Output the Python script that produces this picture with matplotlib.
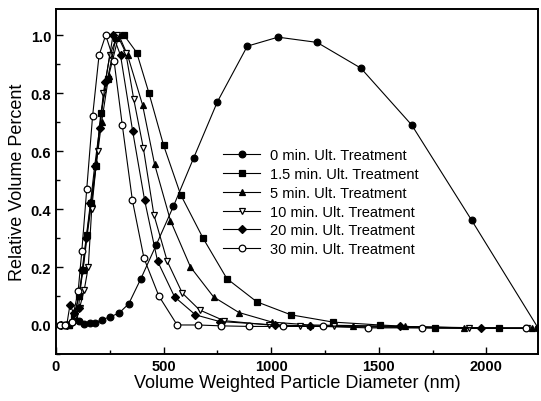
import numpy as np
import matplotlib
matplotlib.use("Agg")
import matplotlib.pyplot as plt

plt.rcParams['font.family'] = ['Liberation Sans', 'DejaVu Sans']

# 0 min (filled circles)
x0 = [20, 45, 75, 105, 130, 157, 182, 213, 251, 293, 338, 394, 465, 546, 639, 750, 889, 1032, 1213, 1417, 1653, 1931, 2240]
y0 = [0.0, 0.0, 0.01, 0.015, 0.004, 0.006, 0.008, 0.018, 0.028, 0.041, 0.073, 0.159, 0.275, 0.41, 0.575, 0.77, 0.962, 0.993, 0.975, 0.886, 0.69, 0.362, -0.01]

# 1.5 min (filled squares)
x15 = [30, 60, 85, 105, 124, 143, 162, 185, 208, 240, 278, 316, 375, 432, 500, 579, 683, 794, 933, 1092, 1287, 1505, 1760, 2060]
y15 = [0.0, 0.0, 0.03, 0.10, 0.19, 0.31, 0.42, 0.55, 0.73, 0.85, 0.99, 1.0, 0.94, 0.80, 0.62, 0.45, 0.30, 0.16, 0.08, 0.035, 0.01, 0.0, -0.01, -0.01]

# 5 min (filled up triangles)
x5 = [30, 60, 85, 107, 126, 145, 165, 188, 212, 245, 292, 333, 402, 458, 532, 625, 732, 850, 1004, 1180, 1381, 1620, 1898, 2213]
y5 = [0.0, 0.0, 0.03, 0.10, 0.19, 0.31, 0.42, 0.56, 0.70, 0.86, 1.0, 0.93, 0.76, 0.555, 0.36, 0.20, 0.097, 0.043, 0.01, 0.0, -0.002, -0.005, -0.01, -0.01]

# 10 min (open down triangles)
x10 = [30, 60, 88, 110, 131, 150, 166, 193, 220, 250, 285, 324, 361, 406, 455, 517, 587, 667, 780, 990, 1134, 1292, 1921, 2190]
y10 = [0.0, 0.0, 0.03, 0.06, 0.12, 0.20, 0.40, 0.60, 0.80, 0.93, 1.0, 0.94, 0.78, 0.61, 0.38, 0.22, 0.11, 0.052, 0.015, 0.0, -0.005, -0.005, -0.012, -0.012]

# 20 min (filled diamonds)
x20 = [25, 50, 65, 82, 105, 122, 140, 160, 180, 203, 230, 265, 300, 356, 412, 472, 551, 648, 760, 1020, 1180, 1597, 1977]
y20 = [0.0, 0.0, 0.07, 0.04, 0.06, 0.19, 0.30, 0.42, 0.55, 0.68, 0.84, 1.0, 0.93, 0.67, 0.43, 0.22, 0.097, 0.035, 0.012, 0.0, -0.003, -0.005, -0.01]

# 30 min (open circles)
x30 = [20, 40, 73, 103, 120, 143, 170, 200, 231, 270, 308, 355, 409, 478, 563, 660, 765, 898, 1055, 1240, 1450, 1700, 2185]
y30 = [0.0, 0.0, 0.01, 0.117, 0.255, 0.47, 0.72, 0.93, 1.0, 0.91, 0.69, 0.43, 0.23, 0.10, 0.0, 0.0, -0.003, -0.005, -0.005, -0.005, -0.01, -0.01, -0.01]

labels = ["0 min. Ult. Treatment", "1.5 min. Ult. Treatment", "5 min. Ult. Treatment",
          "10 min. Ult. Treatment", "20 min. Ult. Treatment", "30 min. Ult. Treatment"]

fig = plt.figure(figsize=(5.41, 4.02), dpi=100)
ax = fig.add_axes([0.1035, 0.117, 0.891, 0.858])

ms = 4.8
kw = dict(color='k', lw=0.8, mec='k', ms=ms, mew=0.9)
ax.plot(x0, y0, marker='o', mfc='k', label=labels[0], **kw)
ax.plot(x15, y15, marker='s', mfc='k', label=labels[1], **kw)
ax.plot(x5, y5, marker='^', mfc='k', label=labels[2], **kw)
ax.plot(x10, y10, marker='v', mfc='white', label=labels[3], **kw)
ax.plot(x20, y20, marker='D', mfc='k', label=labels[4], color='k', lw=0.8, mec='k', ms=4.0, mew=0.9)
ax.plot(x30, y30, marker='o', mfc='white', label=labels[5], **kw)

ax.set_xlim(0, 2240)
ax.set_ylim(-0.1, 1.09)
ax.set_xticks([0, 500, 1000, 1500, 2000])
ax.set_xticks(np.arange(250, 2240, 500), minor=True)
ax.set_yticks([0.0, 0.2, 0.4, 0.6, 0.8, 1.0])
ax.set_yticks(np.arange(-0.1, 1.09, 0.2), minor=True)
ax.tick_params(which='both', direction='in', labelsize=10.5)
ax.tick_params(which='major', length=5, width=1)
ax.tick_params(which='minor', length=3, width=1)
for lab in ax.get_xticklabels() + ax.get_yticklabels():
    lab.set_fontweight('bold')
for sp in ax.spines.values():
    sp.set_linewidth(1.4)

ax.set_xlabel("Volume Weighted Particle Diameter (nm)", fontsize=13, labelpad=1)
ax.set_ylabel("Relative Volume Percent", fontsize=13, labelpad=3)

ax.legend(loc='center left', bbox_to_anchor=(0.32, 0.44), frameon=False,
          fontsize=10.5, labelspacing=0.33, handlelength=2.5, handletextpad=0.7)

fig.savefig("out.png", dpi=100)
